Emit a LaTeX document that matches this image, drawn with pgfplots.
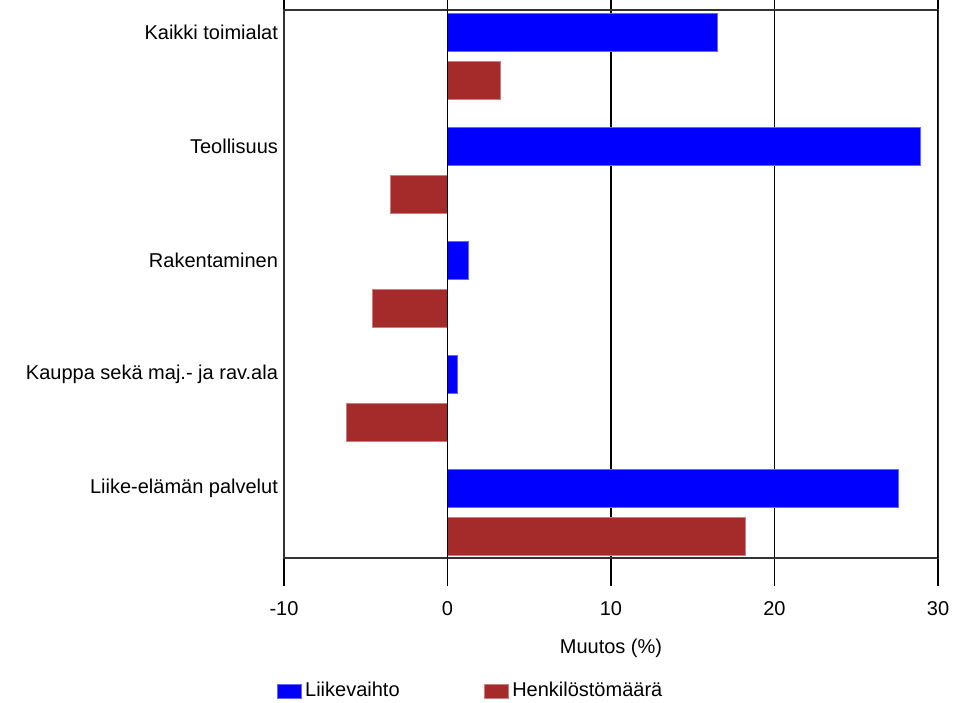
\documentclass[border=0pt]{standalone}
\usepackage{fontspec}
\setmainfont{Liberation Sans}
\usepackage{pgfplots}
\pgfplotsset{compat=1.18}
\definecolor{liikevaihto}{RGB}{0,0,255}
\definecolor{henkilosto}{RGB}{165,42,42}
\begin{document}
\begin{tikzpicture}
\useasboundingbox (-142pt,-72pt) rectangle (339pt,279pt);
\begin{axis}[
  at={(0pt,0pt)}, anchor=south west,
  scale only axis,
  width=327pt, height=274pt,
  xbar, bar width=0.33,
  xmin=-10, xmax=30,
  ymin=-0.614, ymax=4.193,
  xtick={-10,0,10,20,30},
  xticklabels={-10,0,10,20,30},
  xticklabel style={font=\fontsize{10}{12}\selectfont, yshift=-4pt},
  tick align=outside,
  xtick style={black, line width=0.6pt},
  major tick length=14pt,
  xmajorgrids,
  grid style={black, line width=0.6pt},
  ytick={0,1,2,3,4},
  yticklabels={Liike-elämän palvelut, {Kauppa sekä maj.- ja rav.ala}, Rakentaminen, Teollisuus, Kaikki toimialat},
  yticklabel style={font=\fontsize{10}{12}\selectfont, xshift=14.5pt},
  ytick style={draw=none},
  axis line style={black!80, line width=0.7pt},
  xlabel={Muutos (\%)},
  xlabel style={font=\fontsize{10}{12}\selectfont, at={(axis description cs:0.5,-0.164)}, anchor=center},
  legend columns=2,
  legend style={draw=none, at={(axis description cs:-0.012,-0.243)}, anchor=west,
    font=\fontsize{10}{12}\selectfont, inner sep=0pt,
    /tikz/column 2/.style={column sep=40pt}},
  legend image code/.code={\fill[#1] (0pt,-3.5pt) rectangle (12pt,3.5pt);},
  legend cell align=left,
]
\addplot[fill=liikevaihto, draw=liikevaihto!60, line width=0.3pt, bar shift=0] coordinates {
  (16.5,4) (28.9,3) (1.3,2) (0.6,1) (27.6,0)
};
\addplot[fill=henkilosto, draw=henkilosto!60, line width=0.3pt, bar shift=-0.425] coordinates {
  (3.2,4) (-3.5,3) (-4.6,2) (-6.2,1) (18.2,0)
};
\draw[black, line width=1.4pt] (axis cs:30,-0.614) -- (axis cs:30,4.193);
\draw[black, line width=0.7pt] (axis cs:0,-0.614) -- (axis cs:0,4.193);
\legend{Liikevaihto, Henkilöstömäärä}
\end{axis}
\end{tikzpicture}
\end{document}
